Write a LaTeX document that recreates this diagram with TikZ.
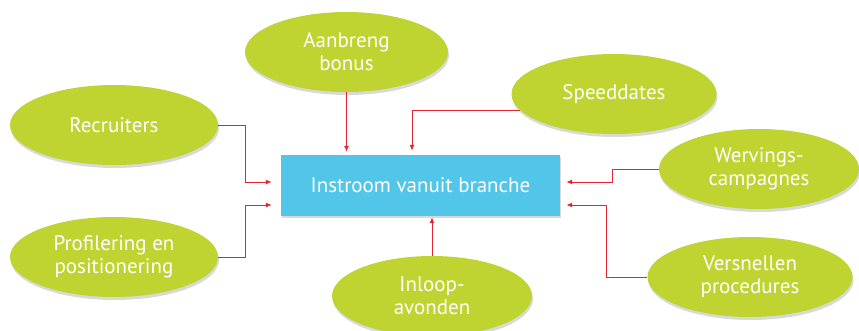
\documentclass[tikz,border=0pt]{standalone}
\usepackage{fontspec}
\setmainfont{PT Sans}
\usetikzlibrary{shapes.geometric,shadows,arrows.meta}
\definecolor{bubblegreen}{RGB}{191,212,48}
\definecolor{goalblue}{RGB}{82,198,233}
\definecolor{feedred}{RGB}{228,38,52}

\begin{document}
\begin{tikzpicture}[x=1pt,y=-1pt,>={Latex[length=6pt,width=5pt]},
    bubble/.style={ellipse,fill=bubblegreen,text=white,align=center,inner sep=0pt,
      minimum width=205pt,minimum height=80pt,font=\fontsize{21}{23}\selectfont,
      drop shadow={shadow xshift=1pt,shadow yshift=-3pt,opacity=.3}},
    goalbox/.style={rectangle,fill=goalblue,text=white,minimum width=279pt,minimum height=61pt,
      font=\fontsize{21}{23}\selectfont,
      drop shadow={shadow xshift=1pt,shadow yshift=-2pt,opacity=.3}},
    feed/.style={->,draw=feedred,line width=1pt}]
    \clip (0,0) rectangle (859,330);

    \node[goalbox] (box) at (420.5,185.5) {Instroom vanuit branche};

    \node[bubble,minimum width=208pt] (rec) at (114,125) {Recruiters};
    \node[bubble,minimum width=208pt] (pro) at (114,257) {Profilering en\\positionering};
    \node[bubble,minimum width=203pt] (aan) at (346.5,52) {Aanbreng\\bonus};
    \node[bubble] (spd) at (614,94) {Speeddates};
    \node[bubble,minimum width=200pt] (wer) at (759,169) {Wervings-\\campagnes};
    \node[bubble] (ver) at (750,277) {Versnellen\\procedures};
    \node[bubble,minimum width=200pt] (inl) at (432,296) {Inloop-\\avonden};

    \coordinate (in1) at ([yshift=3.5pt]box.west);
    \coordinate (in2) at ([yshift=-19.5pt]box.west);
    \coordinate (in3) at ([xshift=-8.5pt]box.north);
    \coordinate (in4) at ([yshift=3.5pt]box.east);
    \coordinate (in5) at ([yshift=-19.5pt]box.east);

    \draw[feed,shorten >=9pt] (rec.east) -- ++(27,0) |- (in1);
    \draw[feed,shorten >=9pt] (pro.east) -- ++(27,0) |- (in2);
    \draw[feed,shorten >=3pt] (aan.south) -- (aan.south |- box.north);
    \draw[feed,shorten >=4pt] (spd.190) -| (in3);
    \draw[feed,shorten >=6pt] (wer.west) -- ++(-46,0) |- (in4);
    \draw[feed,shorten >=6pt] (ver.west) -- ++(-41,0) |- (in5);
    \draw[feed,shorten >=1pt] (inl.north) -- (inl.north |- box.south);
\end{tikzpicture}
\end{document}
